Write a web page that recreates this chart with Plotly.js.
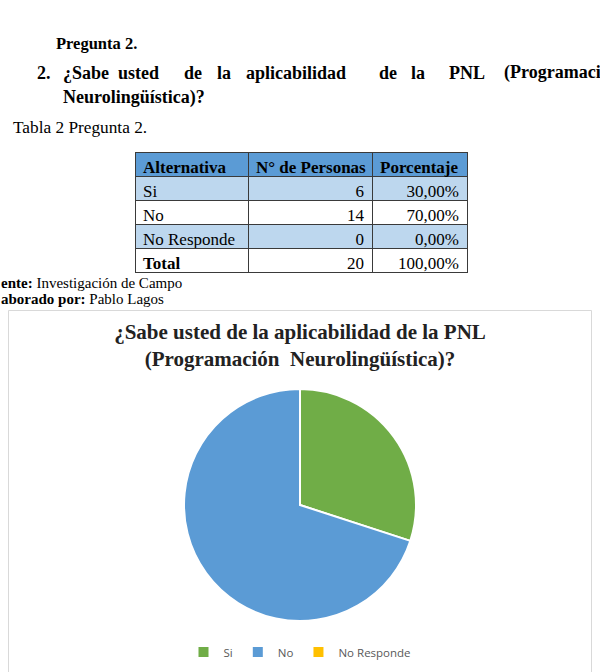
<!DOCTYPE html>
<html>
<head>
<meta charset="utf-8">
<script src="https://cdn.plot.ly/plotly-3.0.1.min.js"></script>
<style>html,body{margin:0;padding:0;background:#fff;}#chart{width:600px;height:672px;}</style>
</head>
<body>
<div id="chart"></div>
<script>
// ---- data ----
var alternativas = ['Si', 'No', 'No Responde'];
var personas = [6, 14, 0];
var headerLabels = ['Alternativa', 'N° de Personas', 'Porcentaje'];
var totalLabel = 'Total';
var chartTitle = '¿Sabe usted de la aplicabilidad de la PNL<br>(Programación  Neurolingüística)?';
var questionWords = ['2.', '¿Sabe', 'usted', 'de', 'la', 'aplicabilidad', 'de', 'la', 'PNL', '(Programaci'];
var sliceColors = ['#70AD47', '#5B9BD5', '#FFC000'];

// ---- derived table columns ----
var total = personas.reduce(function(a, b){ return a + b; }, 0);
function pct(v){ return (100 * v / total).toFixed(2).replace('.', ',') + '%'; }
function nb(s){ return String(s).replace(/ /g, '\u00a0'); }
var colAlt = alternativas.map(nb).concat([totalLabel]);
var colNum = personas.concat([total]);
var colPct = personas.map(pct).concat([pct(total)]);

var W = 600, H = 672;
function py(p){ return 1 - p / H; }
function px(p){ return p / W; }

var serif = 'Liberation Serif, Times New Roman, serif';
var rowFills = ['#BDD7EE', '#FFFFFF', '#BDD7EE', '#FFFFFF'];
var altWeights = colAlt.map(function(v, i){ return i === colAlt.length - 1 ? 'bold' : 'normal'; });

var tableTrace = {
  type: 'table',
  domain: {x: [px(135), px(467)], y: [py(300), py(152)]},
  columnwidth: [113, 124, 95],
  header: {
    values: headerLabels.map(nb),
    fill: {color: '#5B9BD5'},
    line: {color: '#3a3a3a', width: 1},
    align: ['left', 'left', 'left'],
    font: {family: serif, size: 17, color: '#000', weight: 'bold'},
    height: 24
  },
  cells: {
    values: [colAlt, colNum, colPct],
    fill: {color: [rowFills, rowFills, rowFills]},
    line: {color: '#3a3a3a', width: 1},
    align: ['left', 'right', 'right'],
    font: {family: serif, size: 17, color: '#000', weight: [altWeights, 'normal', 'normal']},
    height: 24
  }
};

var pieTrace = {
  type: 'pie',
  labels: alternativas,
  values: personas,
  marker: {colors: sliceColors, line: {color: '#FFFFFF', width: 2}},
  sort: false,
  direction: 'clockwise',
  rotation: 0,
  textinfo: 'none',
  hoverinfo: 'label+value',
  domain: {x: [px(184), px(416)], y: [py(621), py(389)]}
};

var ann = [];
function addText(text, x, y, size, bold, anchor){
  ann.push({text: bold ? '<b>' + text + '</b>' : text, x: px(x), y: py(y), xref: 'paper', yref: 'paper',
    xanchor: anchor || 'left', yanchor: 'middle', showarrow: false,
    font: {family: serif, size: size, color: '#000'}});
}
addText('Pregunta 2.', 54, 43, 16.5, true);
var wordX = [35, 61, 116, 182, 215, 244, 377, 409, 447, 502];
questionWords.forEach(function(w, i){ addText(w, wordX[i], 73, 18, true); });
addText('Neurolingüística)?', 61, 97, 18, true);
addText('Tabla 2 Pregunta 2.', 11, 127, 17.3, false);
addText('<b>ente:</b> Investigación de Campo', -1, 283, 15, false);
addText('<b>aborado por:</b> Pablo Lagos', -1, 299, 15, false);

var layout = {
  width: W, height: H,
  margin: {l: 0, r: 0, t: 0, b: 0},
  paper_bgcolor: '#FFFFFF',
  showlegend: true,
  legend: {orientation: 'h', x: 0.5, xanchor: 'center', y: py(652), yanchor: 'middle',
    font: {family: 'Open Sans, sans-serif', size: 11.5, color: '#595959'}, itemwidth: 30},
  title: {text: '<b>' + chartTitle + '</b>', x: 0.5, xanchor: 'center', y: py(339), yanchor: 'middle',
    font: {family: serif, size: 21, color: '#222'}},
  shapes: [{type: 'rect', xref: 'paper', yref: 'paper', x0: px(8.5), x1: px(591.5), y0: -0.05, y1: py(310.5),
    line: {color: '#D9D9D9', width: 1}}],
  annotations: ann
};

Plotly.newPlot('chart', [tableTrace, pieTrace], layout, {displayModeBar: false});
</script>
</body>
</html>
